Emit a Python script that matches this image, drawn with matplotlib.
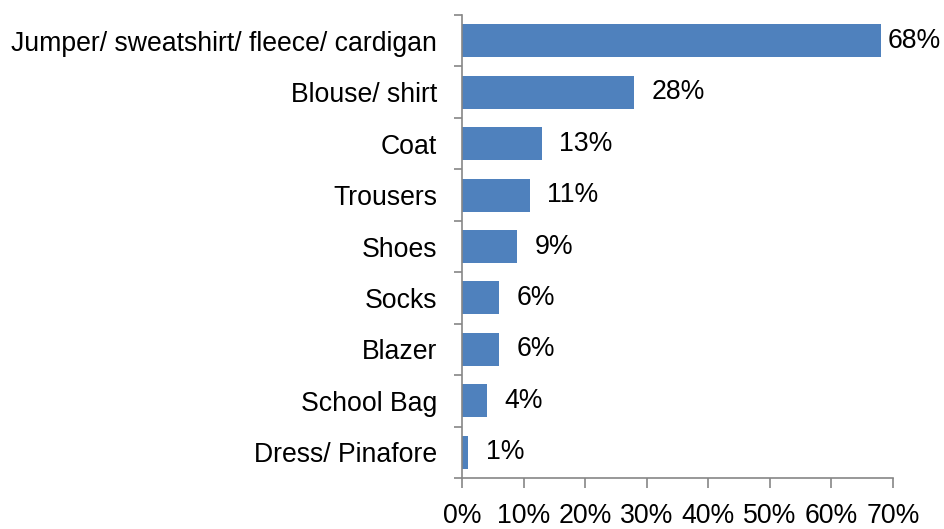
import numpy as np
import matplotlib.pyplot as plt
from matplotlib.ticker import FixedLocator, PercentFormatter

categories = ["Jumper/ sweatshirt/ fleece/ cardigan", "Blouse/ shirt", "Coat",
              "Trousers", "Shoes", "Socks", "Blazer", "School Bag", "Dress/ Pinafore"]
values = [68, 28, 13, 11, 9, 6, 6, 4, 1]
xticks = [0, 10, 20, 30, 40, 50, 60, 70]

BAR = "#4F81BD"
AXIS = "#868686"
FS = 19.2

plt.rcParams["font.family"] = ["Liberation Sans", "DejaVu Sans"]

fig = plt.figure(figsize=(9.44, 5.29), dpi=100)
ax = fig.add_axes([0.4894, 0.0964, 0.4566, 0.8752])

y = np.arange(len(categories))
ax.barh(y, values, height=0.64, color=BAR)
for yi, v in zip(y, values):
    # excel squeezes the widest label in against the bar end
    off = 5 if v == max(values) else 12.5
    ax.annotate(f"{v}%", (v, yi), xytext=(off, 0), textcoords="offset points",
                va="center", ha="left", fontsize=FS)

ax.set_xlim(0, 70)
ax.set_ylim(len(categories) - 0.5, -0.5)
ax.set_yticks(y)
ax.set_yticklabels(categories, fontsize=FS)
ax.yaxis.set_minor_locator(FixedLocator(np.arange(-0.5, len(categories), 1)))
ax.tick_params(axis="y", which="major", length=0, pad=18)
ax.tick_params(axis="y", which="minor", length=6, color=AXIS, width=1.2)

ax.set_xticks(xticks)
ax.xaxis.set_major_formatter(PercentFormatter(decimals=0))
ax.tick_params(axis="x", length=7, color=AXIS, width=1.2, labelsize=FS, pad=11)

for s in ["top", "right"]:
    ax.spines[s].set_visible(False)
for s in ["left", "bottom"]:
    ax.spines[s].set_color(AXIS)
    ax.spines[s].set_linewidth(1.2)

fig.savefig("out.png", dpi=100)
